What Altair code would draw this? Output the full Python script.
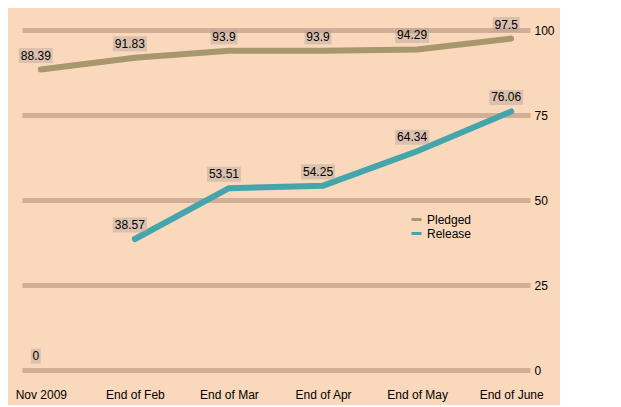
import altair as alt
import pandas as pd

months = ["Nov 2009", "End of Feb", "End of Mar", "End of Apr", "End of May", "End of June"]
pledged = [88.39, 91.83, 93.9, 93.9, 94.29, 97.5]
release = [0, 38.57, 53.51, 54.25, 64.34, 76.06]
series_names = ["Pledged", "Release"]
y_ticks = [0, 25, 50, 75, 100]

rows = []
for i, m in enumerate(months):
    rows.append({"month": m, "idx": i, "series": "Pledged", "value": pledged[i],
                 "label": f"{pledged[i]:g}"})
    rows.append({"month": m, "idx": i, "series": "Release", "value": release[i],
                 "label": f"{release[i]:g}"})
df = pd.DataFrame(rows)

font = "Liberation Sans"

x = alt.X("month:N", sort=months,
          scale=alt.Scale(type="point", domain=months, padding=0.2),
          axis=alt.Axis(title=None, labelAngle=0, domain=False, ticks=False,
                        grid=False, labelPadding=12, labelFontSize=12,
                        labelColor="#000000", labelFont=font))
y = alt.Y("value:Q",
          scale=alt.Scale(domain=[-2, 105], nice=False, zero=False),
          axis=alt.Axis(title=None, orient="right", values=y_ticks, domain=False,
                        ticks=False, grid=True, gridColor="#C4A089", gridWidth=5,
                        gridOpacity=0.75, labelPadding=4, labelFontSize=12,
                        labelColor="#000000", labelFont=font, labelAlign="left"))

color = alt.Color("series:N",
                  scale=alt.Scale(domain=series_names, range=["#A8966C", "#45A5AC"]),
                  legend=alt.Legend(title=None, orient="none", legendX=388, legendY=200,
                                    symbolType="stroke", symbolStrokeWidth=3,
                                    symbolSize=100, labelFontSize=12, labelFont=font,
                                    labelColor="#000000", rowPadding=1))

base = alt.Chart(df).transform_calculate(n="length(datum.label)")

lines = base.mark_line(strokeWidth=6, strokeCap="round").encode(
    x=x, y=y, color=color, detail="series:N"
).transform_filter("datum.series == 'Pledged' || datum.idx > 0")

box_layers = []
for cond, half in [("datum.n <= 1", 0.5), ("datum.n > 1 && datum.n <= 4", 1.35),
                   ("datum.n > 4", 1.7)]:
    box_layers.append(
        base.mark_point(
            shape=f"M-{half},-0.75H{half}V0.75H-{half}Z", size=400, filled=True,
            color="#B5A69B", opacity=0.45, xOffset=-5, yOffset=-14
        ).encode(x=x, y=y).transform_filter(cond)
    )

texts = base.mark_text(
    dx=-5, dy=-14, fontSize=12, font=font, color="#000000", baseline="middle"
).encode(x=x, y=y, text="label:N")

chart = alt.layer(lines, *box_layers, texts).properties(
    width=508, height=364,
    padding={"left": 7, "top": 5, "right": 5, "bottom": 5},
    background="#F9D8BC"
).configure_view(stroke=None)

chart.save("out.html", embed_options={"renderer": "svg", "actions": False})
